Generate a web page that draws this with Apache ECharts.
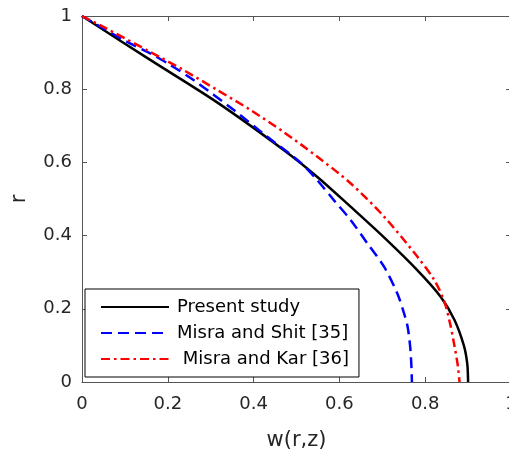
<!DOCTYPE html>
<html>
<head>
<meta charset="utf-8">
<script src="https://cdn.jsdelivr.net/npm/echarts@6/dist/echarts.min.js"></script>
<style>html,body{margin:0;padding:0;background:#fff;}#c{width:509px;height:450px;}</style>
</head>
<body>
<div id="c"></div>
<script>
// Present study (solid black)
var presentW = [0, 0.159, 0.315, 0.47, 0.548, 0.626, 0.704, 0.782, 0.836, 0.868, 0.89, 0.898, 0.9];
var presentR = [1, 0.88, 0.764, 0.634, 0.561, 0.479, 0.395, 0.305, 0.233, 0.17, 0.1, 0.05, 0];
// Misra and Shit [35] (blue dashed)
var shitW = [0, 0.05, 0.104, 0.159, 0.206, 0.26, 0.354, 0.432, 0.509, 0.548, 0.587, 0.626, 0.665, 0.704, 0.735, 0.75, 0.759, 0.765, 0.768, 0.769];
var shitR = [1, 0.966, 0.93, 0.898, 0.866, 0.825, 0.743, 0.67, 0.6, 0.552, 0.497, 0.443, 0.379, 0.315, 0.242, 0.19, 0.151, 0.096, 0.04, 0];
// Misra and Kar [36] (red dash-dot)
var karW = [0, 0.05, 0.159, 0.237, 0.315, 0.393, 0.47, 0.548, 0.626, 0.704, 0.782, 0.821, 0.844, 0.857, 0.868, 0.876, 0.88];
var karR = [1, 0.97, 0.902, 0.852, 0.798, 0.743, 0.683, 0.616, 0.543, 0.452, 0.342, 0.279, 0.222, 0.165, 0.1, 0.045, 0];

var seriesNames = ['Present study', 'Misra and Shit [35]', ' Misra and Kar [36]'];
var xTicks = [0, 0.2, 0.4, 0.6, 0.8, 1];
var yTicks = [0, 0.2, 0.4, 0.6, 0.8, 1];

function pairs(w, r) { return w.map(function (v, i) { return [v, r[i]]; }); }

var FONT = 'DejaVu Sans';
var AXC = '#555555';
var TXT = '#262626';

var chart = echarts.init(document.getElementById('c'), null, {renderer: 'canvas'});
var tickInterval = xTicks[1] - xTicks[0];
function axisBase(pos) {
  return {
    type: 'value', position: pos, min: 0, max: 1, interval: tickInterval,
    axisLine: {show: true, onZero: false, lineStyle: {color: AXC, width: 1}},
    axisTick: {show: true, inside: true, length: 5, lineStyle: {color: AXC}},
    axisLabel: {show: false}, splitLine: {show: false}
  };
}
var xMain = axisBase('bottom');
xMain.name = 'w(r,z)'; xMain.nameLocation = 'middle'; xMain.nameGap = 48;
xMain.nameTextStyle = {fontFamily: FONT, fontSize: 21, color: TXT};
xMain.axisLabel = {show: true, fontFamily: FONT, fontSize: 18, color: TXT, margin: 13};
var yMain = axisBase('left');
yMain.name = 'r'; yMain.nameLocation = 'middle'; yMain.nameGap = 52;
yMain.nameTextStyle = {fontFamily: FONT, fontSize: 21, color: TXT};
yMain.axisLabel = {show: true, fontFamily: FONT, fontSize: 18, color: TXT, margin: 10};
var xTop = axisBase('top');
var yRight = axisBase('right');

chart.setOption({
  animation: false,
  backgroundColor: '#fff',
  grid: {left: 82, top: 16, right: -2, bottom: 68, containLabel: false, outerBoundsMode: 'none'},
  legend: {
    orient: 'vertical', left: 85, top: 289,
    padding: [8, 10, 8, 15],
    backgroundColor: '#fff', borderColor: '#000', borderWidth: 1,
    itemWidth: 68, itemHeight: 14, itemGap: 6,
    itemStyle: {opacity: 0},
    textStyle: {fontFamily: FONT, fontSize: 18, color: '#000', lineHeight: 20, padding: [0, 0, 0, 3]},
    data: seriesNames
  },
  xAxis: [xMain, xTop],
  yAxis: [yMain, yRight],
  series: [
    {name: seriesNames[0], type: 'line', data: pairs(presentW, presentR), showSymbol: false, symbol: 'none', smooth: 0.3,
     lineStyle: {color: '#000', width: 2.5, type: 'solid'}, itemStyle: {color: '#000'}},
    {name: seriesNames[1], type: 'line', data: pairs(shitW, shitR), showSymbol: false, symbol: 'none', smooth: 0.3,
     lineStyle: {color: '#0000ff', width: 2.5, type: [11, 6]}, itemStyle: {color: '#0000ff'}},
    {name: seriesNames[2], type: 'line', data: pairs(karW, karR), showSymbol: false, symbol: 'none', smooth: 0.3,
     lineStyle: {color: '#ff0000', width: 2.5, type: [9, 4, 2.5, 4]}, itemStyle: {color: '#ff0000'}}
  ]
});
</script>
</body>
</html>
